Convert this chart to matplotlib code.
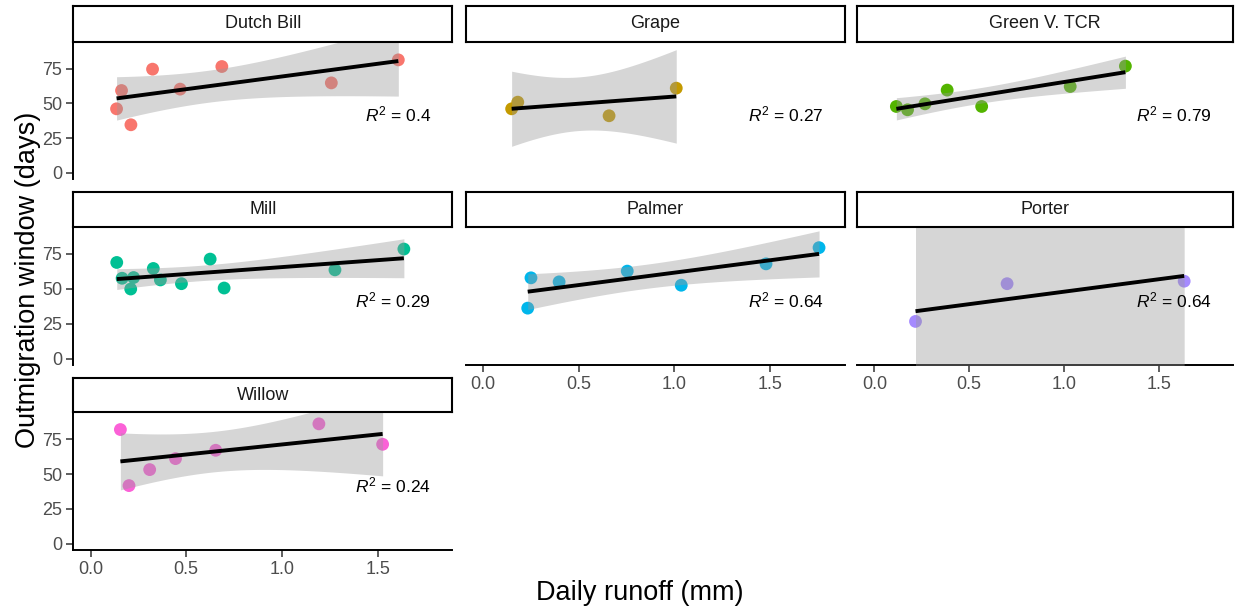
import numpy as np
import matplotlib
matplotlib.use("Agg")
import matplotlib.pyplot as plt

plt.rcParams['font.family'] = ['Liberation Sans', 'DejaVu Sans']
plt.rcParams['mathtext.fontset'] = 'custom'
plt.rcParams['mathtext.rm'] = 'Liberation Sans'
plt.rcParams['mathtext.it'] = 'Liberation Sans:italic'

# ---------------- data ----------------
sites = ["Dutch Bill", "Grape", "Green V. TCR", "Mill", "Palmer", "Porter", "Willow"]
colors = ["#F8766D", "#C49A00", "#53B400", "#00C094", "#00B6EB", "#A58AFF", "#FB61D7"]

dutch_x = [0.136, 0.162, 0.211, 0.324, 0.468, 0.686, 1.258, 1.608]
dutch_y = [46.1, 59.3, 34.6, 74.7, 60.3, 76.6, 64.8, 81.4]
grape_x = [0.150, 0.182, 0.659, 1.010]
grape_y = [46.1, 50.9, 41.1, 61.0]
greenv_x = [0.116, 0.175, 0.267, 0.384, 0.566, 1.033, 1.324]
greenv_y = [47.8, 45.4, 49.7, 59.6, 47.8, 62.2, 76.9]
mill_x = [0.137, 0.165, 0.210, 0.225, 0.328, 0.365, 0.475, 0.625, 0.698, 1.277, 1.637]
mill_y = [68.9, 57.6, 49.9, 58.1, 64.6, 56.4, 53.7, 71.3, 50.6, 63.6, 78.5]
palmer_x = [0.234, 0.251, 0.398, 0.754, 1.036, 1.479, 1.756]
palmer_y = [36.2, 57.9, 55.0, 62.7, 52.6, 67.9, 79.5]
porter_x = [0.217, 0.700, 1.634]
porter_y = [26.7, 53.7, 55.5]
willow_x = [0.156, 0.201, 0.309, 0.444, 0.654, 1.193, 1.526]
willow_y = [82.1, 41.8, 53.3, 61.2, 67.2, 86.2, 71.5]

r2_labels = ["0.4", "0.27", "0.79", "0.29", "0.64", "0.64", "0.24"]

xs = [dutch_x, grape_x, greenv_x, mill_x, palmer_x, porter_x, willow_x]
ys = [dutch_y, grape_y, greenv_y, mill_y, palmer_y, porter_y, willow_y]

x_ticks = [0.0, 0.5, 1.0, 1.5]
x_ticklabels = ["0.0", "0.5", "1.0", "1.5"]
y_ticks = [0, 25, 50, 75]

# two-sided 95% t critical values by degrees of freedom
t975 = {1: 12.706, 2: 4.303, 3: 3.182, 4: 2.776, 5: 2.571, 6: 2.447,
        7: 2.365, 8: 2.306, 9: 2.262, 10: 2.228, 11: 2.201, 12: 2.179}

# ---------------- layout ----------------
W, H = 1238, 611
fig = plt.figure(figsize=(W / 100, H / 100), dpi=100)

col_edges = [(73.3, 452.3), (465.7, 844.7), (857.3, 1232.7)]
row_body = [(41.7, 179.0), (226.7, 365.0), (412.3, 550.0)]
row_strip = [(6.0, 41.7), (192.3, 226.7), (378.3, 412.3)]

def fig_rect(x0, x1, y0, y1):
    return [x0 / W, 1 - y1 / H, (x1 - x0) / W, (y1 - y0) / H]

XLIM = (-0.09, 1.89)
YLIM = (-4.5, 94.5)
grey_txt = "#4D4D4D"

bottom_panels = {4, 5, 6}
left_panels = {0, 3, 6}

for i, site in enumerate(sites):
    r, c = divmod(i, 3)
    x0, x1 = col_edges[c]
    ax = fig.add_axes(fig_rect(x0, x1, *row_body[r]))
    x = np.array(xs[i]); y = np.array(ys[i])

    ax.scatter(x, y, s=85, color=colors[i], edgecolors='none', zorder=2)

    # OLS fit + 95% CI
    n = len(x)
    slope, intercept = np.polyfit(x, y, 1)
    resid = y - (slope * x + intercept)
    s = np.sqrt(np.sum(resid ** 2) / (n - 2))
    xbar = x.mean(); sxx = np.sum((x - xbar) ** 2)
    xx = np.linspace(x.min(), x.max(), 80)
    yy = slope * xx + intercept
    se = s * np.sqrt(1 / n + (xx - xbar) ** 2 / sxx)
    t = t975[n - 2]
    ax.fill_between(xx, yy - t * se, yy + t * se, color="#999999", alpha=0.4,
                    linewidth=0, zorder=3)
    ax.plot(xx, yy, color="black", linewidth=2.8, zorder=4, solid_capstyle='butt')

    ax.text(1.78, 42, r"$\it{R}^2$ = " + r2_labels[i], ha='right', va='center',
            fontsize=12.5, color='black', zorder=5)

    ax.set_xlim(*XLIM); ax.set_ylim(*YLIM)
    for sp in ['top', 'right']:
        ax.spines[sp].set_visible(False)
    ax.spines['left'].set_visible(i in left_panels)
    ax.spines['bottom'].set_visible(i in bottom_panels)
    for sp in ['left', 'bottom']:
        ax.spines[sp].set_linewidth(1.4)
        ax.spines[sp].set_color('black')
    ax.set_facecolor('none')

    if i in left_panels:
        ax.set_yticks(y_ticks)
        ax.tick_params(axis='y', length=5, width=1.1, color='#333333',
                       labelsize=13, labelcolor=grey_txt, pad=3)
    else:
        ax.set_yticks([])
    if i in bottom_panels:
        ax.set_xticks(x_ticks)
        ax.set_xticklabels(x_ticklabels)
        ax.tick_params(axis='x', length=5, width=1.1, color='#333333',
                       labelsize=13, labelcolor=grey_txt, pad=3)
    else:
        ax.set_xticks([])

    # strip
    sax = fig.add_axes(fig_rect(x0, x1, *row_strip[r]))
    sax.set_xticks([]); sax.set_yticks([])
    sax.set_facecolor('white')
    for sp in sax.spines.values():
        sp.set_linewidth(1.5)
        sp.set_color('black')
    sax.text(0.5, 0.5, site, ha='center', va='center', fontsize=13,
             color='#1A1A1A', transform=sax.transAxes)

fig.text(640 / W, 1 - 593 / H, "Daily runoff (mm)", ha='center', va='center',
         fontsize=19.5, color='black')
fig.text(28 / W, 1 - 280 / H, "Outmigration window (days)", ha='center',
         va='center', rotation=90, fontsize=19.5, color='black')

fig.savefig("out.png", dpi=100, facecolor='white')
